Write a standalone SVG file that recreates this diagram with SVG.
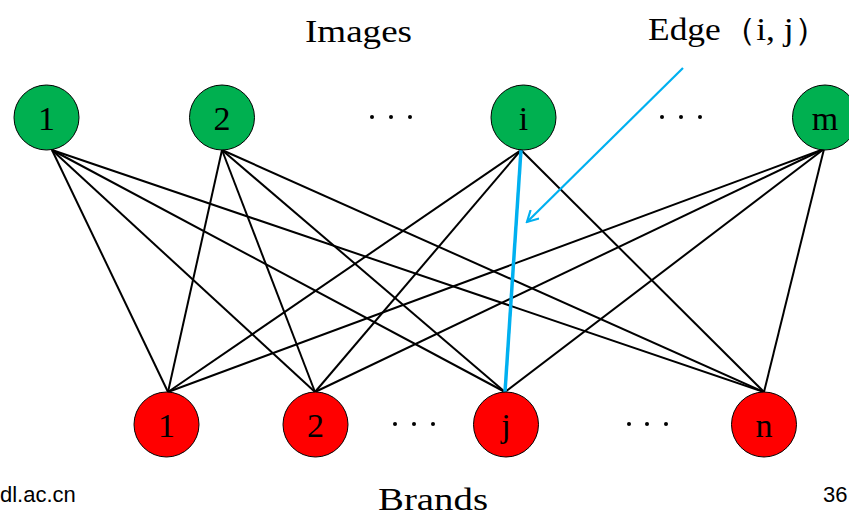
<svg xmlns="http://www.w3.org/2000/svg" width="849" height="517" viewBox="0 0 849 517">
<style>
.top{fill:#00B050;stroke:#000;stroke-width:1}
.bot{fill:#FF0000;stroke:#000;stroke-width:1}
.lbl{font-family:"Liberation Serif",serif;font-size:34px;fill:#000;text-anchor:middle}
.ttl{font-family:"Liberation Serif",serif;font-size:32px;fill:#000}
.e{stroke:#000;stroke-width:2;fill:none}
.dot{fill:#000}
.sans{font-family:"Liberation Sans",Arial,sans-serif;font-size:22px;fill:#000}
</style>
<defs>
<marker id="arr" markerWidth="14" markerHeight="14" refX="12" refY="7" orient="auto" markerUnits="userSpaceOnUse">
<path d="M1,1 L12,7 L1,13" fill="none" stroke="#00B0F0" stroke-width="2.2"/>
</marker>
</defs>
<rect width="849" height="517" fill="#fff"/>
<g id="connectors">
<line class="e" x1="52" y1="150" x2="168" y2="392"/>
<line class="e" x1="52" y1="150" x2="315" y2="392"/>
<line class="e" x1="52" y1="150" x2="505" y2="392"/>
<line class="e" x1="52" y1="150" x2="764" y2="392"/>
<line class="e" x1="222" y1="150" x2="168" y2="392"/>
<line class="e" x1="222" y1="150" x2="315" y2="392"/>
<line class="e" x1="222" y1="150" x2="505" y2="392"/>
<line class="e" x1="222" y1="150" x2="764" y2="392"/>
<line class="e" x1="521" y1="150" x2="168" y2="392"/>
<line class="e" x1="521" y1="150" x2="315" y2="392"/>
<line class="e" x1="521" y1="150" x2="764" y2="392"/>
<line class="e" x1="824" y1="149" x2="168" y2="392"/>
<line class="e" x1="824" y1="149" x2="315" y2="392"/>
<line class="e" x1="824" y1="149" x2="505" y2="392"/>
<line class="e" x1="824" y1="149" x2="764" y2="392"/>
<line x1="521" y1="150" x2="505" y2="392" stroke="#00B0F0" stroke-width="3.5"/>
<line x1="683" y1="68" x2="527" y2="222" stroke="#00B0F0" stroke-width="2.2" marker-end="url(#arr)"/>
</g>
<g id="top1"><circle class="top" cx="46.5" cy="117.5" r="32.5"/><text class="lbl" x="46.5" y="130">1</text></g>
<g id="top2"><circle class="top" cx="222" cy="117.5" r="32.5"/><text class="lbl" x="222" y="130">2</text></g>
<g id="topi"><circle class="top" cx="523.5" cy="117.5" r="32.5"/><text class="lbl" x="523.5" y="130">i</text></g>
<g id="topm"><circle class="top" cx="825" cy="117.5" r="32.5"/><text class="lbl" x="825" y="130">m</text></g>
<g id="bot1"><circle class="bot" cx="166.5" cy="424.5" r="32.5"/><text class="lbl" x="166.5" y="437">1</text></g>
<g id="bot2"><circle class="bot" cx="315.5" cy="424.5" r="32.5"/><text class="lbl" x="315.5" y="437">2</text></g>
<g id="botj"><circle class="bot" cx="506" cy="424.5" r="32.5"/><text class="lbl" x="506" y="437">j</text></g>
<g id="botn"><circle class="bot" cx="764" cy="424.5" r="32.5"/><text class="lbl" x="764" y="437">n</text></g>
<g id="dots">
<circle class="dot" cx="372" cy="117" r="2"/><circle class="dot" cx="391" cy="117" r="2"/><circle class="dot" cx="410" cy="117" r="2"/>
<circle class="dot" cx="662" cy="117" r="2"/><circle class="dot" cx="681" cy="117" r="2"/><circle class="dot" cx="700" cy="117" r="2"/>
<circle class="dot" cx="395" cy="424" r="2"/><circle class="dot" cx="414" cy="424" r="2"/><circle class="dot" cx="433" cy="424" r="2"/>
<circle class="dot" cx="629" cy="424" r="2"/><circle class="dot" cx="647" cy="424" r="2"/><circle class="dot" cx="666" cy="424" r="2"/>
</g>
<text class="ttl" x="305" y="42" textLength="107" lengthAdjust="spacingAndGlyphs">Images</text>
<text class="ttl" x="648" y="40" textLength="181" lengthAdjust="spacingAndGlyphs">Edge（i, j）</text>
<text class="ttl" x="378" y="510" textLength="110" lengthAdjust="spacingAndGlyphs">Brands</text>
<text class="sans" x="0" y="502">dl.ac.cn</text>
<text class="sans" x="823" y="502">36</text>
</svg>
